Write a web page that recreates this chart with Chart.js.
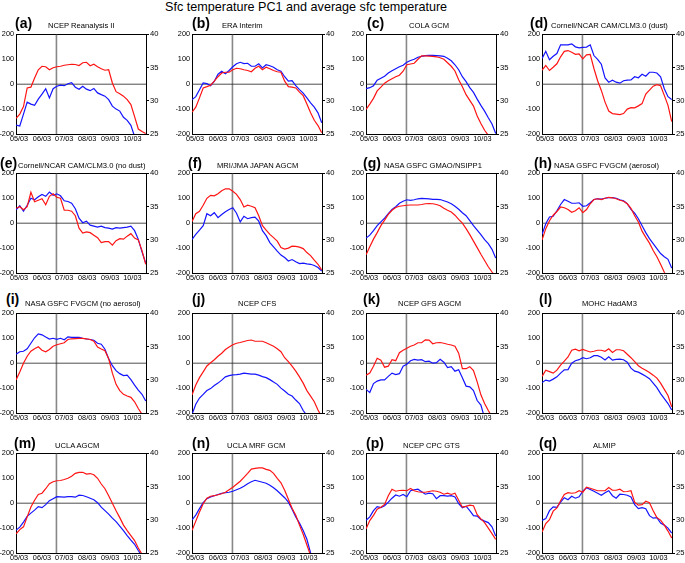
<!DOCTYPE html>
<html><head><meta charset="utf-8">
<script src="https://cdn.jsdelivr.net/npm/chart.js@4/dist/chart.umd.min.js"></script>
<style>
html,body{margin:0;padding:0;background:#fff;}
body{width:685px;height:563px;position:relative;overflow:hidden;font-family:"Liberation Sans",Arial,Helvetica,sans-serif;color:#000;}
.box{position:absolute;}
.lab{position:absolute;font-weight:bold;font-size:14px;line-height:14px;white-space:nowrap;}
.name{position:absolute;font-size:7.6px;line-height:7.6px;white-space:nowrap;}
#title{position:absolute;left:165px;top:1px;font-size:12.6px;line-height:12.6px;white-space:nowrap;}
</style></head><body>
<div id="title">Sfc temperature PC1 and average sfc temperature</div>
<script>
// ---- data ----
const days = [-4,1,6,11,16,21,26,31,36,41,46,51,56,61,66,71,76,81,86,91,96,101,106,111,116,121,126,131,136,141,146,151,156,161,166,171];
const monthDays = [0,31,61,92,123,153];
const monthLabels = ['05/03','06/03','07/03','08/03','09/03','10/03'];
const leftTicks = [-200,-100,0,100,200];
const rightTicks = [25,30,35,40];
const onsetDay = 50.5;

const panelLetters = ['(a)','(b)','(c)','(d)','(e)','(f)','(g)','(h)','(i)','(j)','(k)','(l)','(m)','(n)','(p)','(q)'];
const panelNames = ['NCEP Reanalysis II','ERA Interim','COLA GCM','Cornell/NCAR CAM/CLM3.0 (dust)',
  'Cornell/NCAR CAM/CLM3.0 (no dust)','MRI/JMA JAPAN AGCM','NASA GSFC GMAO/NSIPP1','NASA GSFC FVGCM (aerosol)',
  'NASA GSFC FVGCM (no aerosol)','NCEP CFS','NCEP GFS AGCM','MOHC HadAM3',
  'UCLA AGCM','UCLA MRF GCM','NCEP CPC GTS','ALMIP'];

const redA = [-137,-120,-90,-15,-12,25,58,72,70,58,66,70,72,76,78,80,79,75,86,88,74,80,70,62,56,58,5,-30,-38,-48,-62,-82,-130,-180,-190,-198];
const blueA = [-164,-168,-120,-72,-80,-85,-60,-40,-18,-55,-18,-8,-4,-6,2,6,-12,-20,-8,-20,-26,-17,-35,-42,-48,-62,-88,-100,-108,-133,-145,-165,-210,null,null,null];
const redB = [-112,-92,-55,-15,-10,-4,12,30,45,48,48,58,64,62,58,55,50,64,72,58,68,62,55,50,48,12,-10,-12,-15,-32,-46,-80,-115,-145,-166,-195];
const blueB = [-62,-50,-22,5,2,-6,12,40,52,42,55,70,82,88,83,84,72,72,82,65,78,74,68,58,52,30,12,14,-6,-22,-36,-55,-75,-92,-115,-155];
const redC = [-101,-80,-57,-27,-12,4,14,22,30,36,52,78,81,84,100,114,114,113,112,110,106,100,86,72,53,18,-10,-42,-65,-88,-128,-158,-185,-205,null,null];
const blueC = [-18,-14,-6,16,24,32,45,54,62,70,76,88,95,100,108,112,115,116,116,115,114,112,104,94,78,58,30,10,-14,-33,-60,-85,-108,-135,-160,-198];
const redD = [56,75,55,68,82,110,132,135,128,120,122,102,118,120,63,14,-25,-72,-108,-118,-120,-122,-118,-100,-94,-95,-87,-78,-40,-24,-8,-2,-6,-45,-85,-150];
const blueD = [103,132,98,112,123,158,158,158,162,150,146,148,149,158,115,100,80,25,8,16,8,4,14,16,17,30,26,40,32,48,48,45,30,-18,-50,-62];
const redE = [60,66,54,66,124,86,92,98,74,108,118,104,100,52,52,48,30,-20,-40,-35,-38,-48,-58,-78,-74,-74,-88,-70,-62,-64,-52,-42,-60,-67,-110,-165];
const blueE = [54,70,48,72,100,94,106,115,108,125,112,118,110,90,87,80,58,20,2,8,-8,-12,-16,-12,-18,-20,-24,-18,-20,-18,-16,-12,-30,-65,-115,-160];
const redF = [7,38,48,72,100,112,110,118,130,138,138,128,116,95,65,72,68,62,30,-10,-28,-45,-58,-72,-98,-104,-100,-92,-93,-96,-102,-118,-130,-148,-165,-188];
const blueF = [-65,-45,-28,-10,38,30,42,22,35,46,55,62,40,5,28,18,22,24,8,-30,-50,-78,-95,-112,-128,-138,-152,-146,-155,-162,-160,-163,-165,-170,-178,-192];
const redG = [-127,-95,-64,-38,-10,12,35,52,63,68,70,72,73,73,73,75,78,79,78,75,70,60,52,45,32,15,0,-22,-46,-72,-98,-125,-150,-175,-196,-215];
const blueG = [-60,-48,-30,-10,5,20,38,55,66,80,88,94,92,94,98,100,99,98,96,96,95,90,85,78,68,56,42,30,10,-10,-28,-46,-66,-82,-105,-140];
const redH = [-67,-22,10,32,47,65,62,55,44,50,62,42,55,78,95,98,95,100,104,102,98,92,88,78,60,30,5,-32,-57,-80,-110,-135,-165,-197,-225,null];
const blueH = [-45,-2,25,28,50,75,95,88,80,80,82,68,70,82,95,98,97,100,103,103,100,94,90,78,55,40,18,-10,-38,-62,-82,-102,-122,-135,-145,-180];
const redI = [-67,-35,0,28,48,58,66,52,46,55,68,74,78,82,95,98,99,100,100,98,95,88,65,57,50,18,-40,-85,-110,-125,-132,-137,-155,-182,-205,null];
const blueI = [36,46,48,58,80,102,118,114,105,97,100,96,100,94,106,104,104,104,100,97,95,92,80,76,56,18,-10,-30,-42,-50,-48,-66,-88,-108,-125,-152];
const redJ = [-127,-88,-58,-35,-11,2,14,28,40,55,65,74,80,83,87,91,93,88,88,88,82,75,68,58,46,22,6,-12,-32,-55,-80,-110,-132,-155,-188,-215];
const blueJ = [-205,-165,-140,-125,-110,-102,-90,-80,-68,-55,-50,-47,-46,-44,-40,-42,-44,-44,-48,-54,-58,-66,-76,-85,-100,-112,-125,-132,-148,-162,-190,-210,null,null,null,null];
const redK = [-48,-40,-12,20,12,-16,-12,14,10,42,52,60,68,73,82,82,94,93,78,82,83,80,76,73,68,40,-22,-22,-14,-30,-75,-127,-162,-190,-215,null];
const blueK = [-105,-118,-82,-72,-67,-67,-53,-40,-46,-42,-12,-4,10,15,12,14,6,8,0,2,16,4,-18,-14,-32,-26,-58,-92,-95,-110,-150,-168,-220,null,null,null];
const redL = [-53,-28,-34,-40,-28,-8,8,25,52,56,50,55,50,45,48,52,52,48,58,43,54,54,50,36,22,6,-10,-20,-28,-37,-48,-60,-80,-105,-130,-175];
const blueL = [-78,-68,-72,-64,-55,-40,-27,-26,0,10,14,22,18,22,30,30,24,13,26,12,15,16,14,4,-20,-32,-36,-44,-52,-62,-80,-98,-122,-142,-162,-188];
const redM = [-123,-106,-95,-55,-15,12,35,40,58,78,86,90,91,95,100,108,120,124,124,117,119,114,100,77,58,30,0,-30,-58,-88,-110,-130,-150,-180,-205,null];
const blueM = [-108,-96,-76,-53,-40,-28,-14,-18,-6,10,18,26,25,24,26,26,24,32,31,26,20,14,2,-16,-30,-44,-60,-74,-92,-110,-130,-148,-165,-190,-212,null];
const redN = [-109,-72,-35,-2,20,28,30,34,38,44,54,64,76,88,104,120,137,140,142,142,136,132,120,100,82,52,16,-20,-48,-88,-125,-168,-210,null,null,null];
const blueN = [-67,-48,-22,2,18,25,30,35,40,42,44,48,54,60,68,78,86,92,88,84,80,72,62,50,36,22,4,-24,-55,-80,-110,-145,-200,-240,null,null];
const redP = [-103,-70,-49,-24,-16,-5,30,56,48,51,52,50,59,50,46,44,44,47,50,48,44,36,40,35,40,12,-16,-13,-8,-10,-46,-63,-78,-100,-122,-145];
const blueP = [-69,-55,-30,-14,-18,-10,4,20,33,28,35,26,50,54,56,46,36,40,38,18,30,30,28,30,25,-2,-18,-12,-30,-50,-52,-65,-72,-78,-95,-132];
const redQ = [-116,-82,-66,-32,-19,10,35,42,40,42,50,44,64,60,55,50,50,50,63,52,52,56,46,47,50,4,-8,-6,8,2,-30,-58,-68,-88,-112,-140];
const blueQ = [-69,-62,-30,-15,-17,4,22,14,28,20,26,48,62,55,48,40,32,42,50,30,20,36,35,32,25,-6,-22,-18,-22,-50,-60,-58,-80,-88,-100,-120];

const redSeries = [redA,redB,redC,redD,redE,redF,redG,redH,redI,redJ,redK,redL,redM,redN,redP,redQ];
const blueSeries = [blueA,blueB,blueC,blueD,blueE,blueF,blueG,blueH,blueI,blueJ,blueK,blueL,blueM,blueN,blueP,blueQ];

// ---- layout ----
const xMin = -4.1, xMax = 171.4;
const colLeft = [16,192,366,542];
const rowTop = [34,173,313,453];
const plotW = 130, plotH = 100;
const labelBase = [27.5,167.5,304,447.5];
const nameBase = [28.5,168.5,306,448];
const labelLeft = [15,192,367,530, 0,188,363,534, 6,192,363,539, 14,192,366,539];
const nameLeft = [48,222,409,551, 18,217,384,554, 25,238,398,582, 55,227,403,593];
const FONT = "'Liberation Sans', Arial, Helvetica, sans-serif";

function makePanel(k){
  const col = k % 4, row = Math.floor(k / 4);
  const L = colLeft[col], T = rowTop[row];
  const padT = 6, wL = 16, wR = 16, hB = 11;
  const W = wL + plotW + wR, H = padT + plotH + hB;
  const div = document.createElement('div');
  div.className = 'box';
  div.style.left = (L - wL) + 'px'; div.style.top = (T - padT) + 'px';
  div.style.width = W + 'px'; div.style.height = H + 'px';
  const cv = document.createElement('canvas');
  cv.width = W; cv.height = H;
  div.appendChild(cv);
  document.body.appendChild(div);

  const lab = document.createElement('div');
  lab.className = 'lab'; lab.textContent = panelLetters[k];
  lab.style.left = labelLeft[k] + 'px'; lab.style.top = (labelBase[row] - 11.9) + 'px';
  document.body.appendChild(lab);
  const nm = document.createElement('div');
  nm.className = 'name'; nm.textContent = panelNames[k];
  nm.style.left = nameLeft[k] + 'px'; nm.style.top = (nameBase[row] - 6.4) + 'px';
  document.body.appendChild(nm);

  const pts = arr => days.map((d, i) => ({x: d, y: arr[i]}));
  const tickFont = {family: FONT, size: 7.3};
  new Chart(cv, {
    type: 'line',
    data: {datasets: [
      {label: 'Sfc temperature PC1', data: pts(redSeries[k]), borderColor: '#ff1414', borderWidth: 1.2, pointRadius: 0, order: 1, yAxisID: 'y'},
      {label: 'Average sfc temperature', data: pts(blueSeries[k]), borderColor: '#1414ff', borderWidth: 1.2, pointRadius: 0, order: 2, yAxisID: 'y'},
      {label: 'zero', data: [{x: xMin, y: 0}, {x: xMax, y: 0}], borderColor: '#222', borderWidth: 0.8, pointRadius: 0, order: 3, yAxisID: 'y'},
      {label: 'onset', data: [{x: onsetDay, y: -200}, {x: onsetDay, y: 200}], borderColor: '#888', borderWidth: 1.6, pointRadius: 0, order: 4, yAxisID: 'y'}
    ]},
    options: {
      responsive: false, animation: false, events: [],
      layout: {autoPadding: false, padding: {top: padT, left: 0, right: 0, bottom: 0}},
      plugins: {legend: {display: false}, tooltip: {enabled: false}},
      elements: {line: {tension: 0}},
      scales: {
        x: {type: 'linear', position: 'bottom', min: xMin, max: xMax,
          afterBuildTicks: s => { s.ticks = monthDays.map(v => ({value: v})); },
          ticks: {autoSkip: false, maxRotation: 0, minRotation: 0, padding: 1, color: '#000', font: tickFont,
            callback: v => monthLabels[monthDays.indexOf(v)]},
          grid: {drawOnChartArea: false, drawTicks: false},
          border: {display: true, color: '#000', width: 1},
          afterFit: s => { s.height = hB; }},
        x2: {type: 'linear', position: 'top', min: xMin, max: xMax,
          ticks: {display: false}, grid: {drawOnChartArea: false, drawTicks: false},
          border: {display: true, color: '#000', width: 1},
          afterFit: s => { s.height = 0; }},
        y: {type: 'linear', position: 'left', min: -200, max: 200,
          afterBuildTicks: s => { s.ticks = leftTicks.map(v => ({value: v})); },
          ticks: {padding: 2, color: '#000', font: tickFont},
          grid: {drawOnChartArea: false, drawTicks: false},
          border: {display: true, color: '#000', width: 1},
          afterFit: s => { s.width = wL; }},
        y2: {type: 'linear', position: 'right', min: 25, max: 40,
          afterBuildTicks: s => { s.ticks = rightTicks.map(v => ({value: v})); },
          ticks: {padding: 1, color: '#000', font: {family: FONT, size: 7.6}},
          grid: {drawOnChartArea: false, drawTicks: true, tickLength: 3, color: '#000'},
          border: {display: true, color: '#000', width: 1},
          afterFit: s => { s.width = wR; }}
      }
    }
  });
}
for (let k = 0; k < 16; k++) makePanel(k);
</script>
</body></html>
